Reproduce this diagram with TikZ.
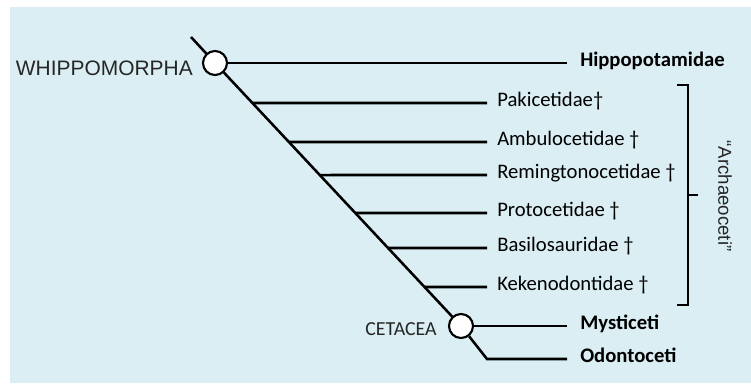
\documentclass[tikz,border=0pt]{standalone}
\usepackage{fontspec}
\setmainfont{Carlito}
\newfontfamily\arialfont{Liberation Sans}
\usetikzlibrary{calc}

\definecolor{panelblue}{HTML}{DAEEF3}
\definecolor{labelgray}{HTML}{262626}

\tikzset{
    branch/.style={line width=1.9pt},
    clade/.style={circle, draw, fill=white, line width=1.6pt, minimum size=18pt, inner sep=0pt},
    taxon/.style={anchor=west, font=\fontsize{15.5}{18}\selectfont, inner xsep=7.5pt, inner ysep=0pt, text height=10pt, text depth=5pt},
    crown/.style={taxon, font=\fontsize{15.5}{18}\selectfont\bfseries, inner xsep=9.75pt},
}

\begin{document}
\begin{tikzpicture}[x=0.75pt, y=-0.75pt]
    \useasboundingbox (0,0) rectangle (751,383);

    % Background
    \fill[panelblue] (10,7) rectangle (751,383);

    % Clade circles
    \node[clade] (whip) at (215,63) {};
    \node[clade] (cet) at (461,326) {};
    \coordinate (root) at (191,37);
    \coordinate (odbend) at (487,359);

    % Clade names
    \node[anchor=base east, inner sep=0pt, text=labelgray, font=\arialfont\fontsize{15.7}{18}\selectfont] (whiplabel) at (193,75) {WHIPPOMORPHA};
    \node[anchor=base east, inner sep=0pt, text=labelgray, font=\fontsize{14.9}{17}\selectfont] (cetlabel) at (437,335) {CETACEA};

    % Living groups
    \node[crown] (hippo) at (567,63) {Hippopotamidae};
    \node[crown] (myst) at (567,326) {Mysticeti};
    \node[crown] (odonto) at (567,359) {Odontoceti};

    % Extinct families
    \node[taxon] (paki) at (487,103) {Pakicetidae†};
    \node[taxon] (ambulo) at (487,142) {Ambulocetidae †};
    \node[taxon] (remington) at (487,175) {Remingtonocetidae †};
    \node[taxon] (proto) at (487,213) {Protocetidae †};
    \node[taxon] (basilo) at (487,248) {Basilosauridae †};
    \node[taxon] (keken) at (487,287) {Kekenodontidae †};

    % Main stem
    \draw[branch] (root) -- (whip);
    \draw[branch] (whip) -- (cet);
    \draw[branch] (whip) -- (hippo.west);
    \draw[branch] (cet) -- (myst.west);
    \draw[branch] (cet) -- (odbend) -- (odonto.west);

    % Side branches off the stem
    \draw[branch] ($(whip)!0.1521!(cet)$) -- (paki.west);
    \draw[branch] ($(whip)!0.3004!(cet)$) -- (ambulo.west);
    \draw[branch] ($(whip)!0.4259!(cet)$) -- (remington.west);
    \draw[branch] ($(whip)!0.5703!(cet)$) -- (proto.west);
    \draw[branch] ($(whip)!0.7034!(cet)$) -- (basilo.west);
    \draw[branch] ($(whip)!0.8517!(cet)$) -- (keken.west);

    % Bracket
    \draw[branch] (677,85) -- (688,85) -- (688,305) -- (677,305);
    \draw[branch] (688,195) -- (698,195);
    \node[rotate=-90, text=labelgray, font=\arialfont\fontsize{14}{16}\selectfont] (archaeo) at (725,196) {“Archaeoceti”};
\end{tikzpicture}
\end{document}
